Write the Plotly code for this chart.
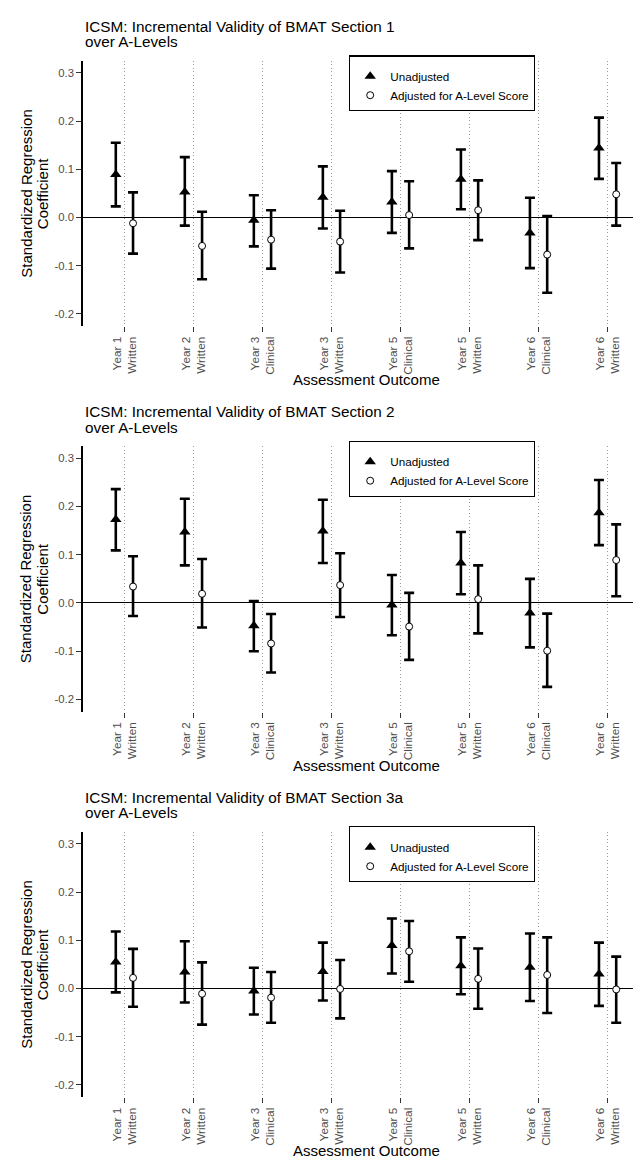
import plotly.graph_objects as go

# ---------------- data ----------------
categories = ["Year 1 Written", "Year 2 Written", "Year 3 Clinical", "Year 3 Written",
              "Year 5 Clinical", "Year 5 Written", "Year 6 Clinical", "Year 6 Written"]
tick_labels = ["Year 1<br>Written", "Year 2<br>Written", "Year 3<br>Clinical", "Year 3<br>Written",
               "Year 5<br>Clinical", "Year 5<br>Written", "Year 6<br>Clinical", "Year 6<br>Written"]
y_ticks = [-0.2, -0.1, 0.0, 0.1, 0.2, 0.3]

titles = ["ICSM: Incremental Validity of BMAT Section 1",
          "ICSM: Incremental Validity of BMAT Section 2",
          "ICSM: Incremental Validity of BMAT Section 3a"]
subtitle = "over A-Levels"
series_names = ["Unadjusted", "Adjusted for A-Level Score"]

# Section 1
s1_unadj = [0.089, 0.053, -0.006, 0.042, 0.032, 0.079, -0.032, 0.144]
s1_unadj_lo = [0.023, -0.017, -0.060, -0.023, -0.032, 0.017, -0.105, 0.080]
s1_unadj_hi = [0.155, 0.125, 0.046, 0.106, 0.096, 0.141, 0.041, 0.207]
s1_adj = [-0.012, -0.059, -0.046, -0.050, 0.005, 0.015, -0.077, 0.048]
s1_adj_lo = [-0.075, -0.128, -0.106, -0.114, -0.064, -0.047, -0.156, -0.017]
s1_adj_hi = [0.052, 0.012, 0.015, 0.014, 0.075, 0.077, 0.003, 0.113]

# Section 2
s2_unadj = [0.173, 0.147, -0.047, 0.149, -0.004, 0.083, -0.021, 0.187]
s2_unadj_lo = [0.109, 0.078, -0.100, 0.083, -0.067, 0.018, -0.092, 0.120]
s2_unadj_hi = [0.236, 0.216, 0.004, 0.214, 0.058, 0.147, 0.050, 0.255]
s2_adj = [0.034, 0.019, -0.084, 0.037, -0.049, 0.008, -0.099, 0.089]
s2_adj_lo = [-0.027, -0.051, -0.144, -0.029, -0.118, -0.063, -0.174, 0.014]
s2_adj_hi = [0.097, 0.091, -0.023, 0.103, 0.021, 0.078, -0.022, 0.163]

# Section 3a
s3_unadj = [0.055, 0.034, -0.005, 0.035, 0.089, 0.047, 0.044, 0.030]
s3_unadj_lo = [-0.008, -0.029, -0.054, -0.025, 0.031, -0.012, -0.026, -0.036]
s3_unadj_hi = [0.118, 0.098, 0.043, 0.095, 0.145, 0.106, 0.114, 0.095]
s3_adj = [0.022, -0.011, -0.019, -0.001, 0.077, 0.020, 0.028, -0.002]
s3_adj_lo = [-0.038, -0.075, -0.071, -0.062, 0.014, -0.042, -0.051, -0.071]
s3_adj_hi = [0.082, 0.054, 0.034, 0.059, 0.140, 0.083, 0.106, 0.066]

panels = [
    (s1_unadj, s1_unadj_lo, s1_unadj_hi, s1_adj, s1_adj_lo, s1_adj_hi),
    (s2_unadj, s2_unadj_lo, s2_unadj_hi, s2_adj, s2_adj_lo, s2_adj_hi),
    (s3_unadj, s3_unadj_lo, s3_unadj_hi, s3_adj, s3_adj_lo, s3_adj_hi),
]

# ---------------- layout constants ----------------
W, H = 641, 1158
DODGE = 0.125
PANEL_STEP = 385.5          # px between panels
PLOT_TOP = 52.7             # px, panel 1 plot top
PLOT_BOT = 318.0            # px, panel 1 plot bottom
X_LEFT = 75.0
FONT = "Liberation Sans, Arial, sans-serif"

def py(px):
    return 1 - px / H

def px_x(px):
    return px / W

fig = go.Figure()
annotations = []
layout_axes = {}

for p, (u, ulo, uhi, a, alo, ahi) in enumerate(panels):
    sfx = "" if p == 0 else str(p + 1)
    xa, ya = "x" + sfx, "y" + sfx
    leg = "legend" + sfx
    off = p * PANEL_STEP
    xpos = list(range(len(categories)))

    fig.add_trace(go.Scatter(
        x=[i - DODGE for i in xpos], y=u, mode="markers", name=series_names[0],
        customdata=categories,
        marker=dict(symbol="triangle-up", size=10, color="black"),
        error_y=dict(type="data", symmetric=False,
                     array=[h - v for h, v in zip(uhi, u)],
                     arrayminus=[v - l for v, l in zip(u, ulo)],
                     color="black", thickness=2.6, width=5),
        xaxis=xa, yaxis=ya, legend=leg))
    fig.add_trace(go.Scatter(
        x=[i + DODGE for i in xpos], y=a, mode="markers", name=series_names[1],
        customdata=categories,
        marker=dict(symbol="circle", size=7, color="white", line=dict(color="black", width=1)),
        error_y=dict(type="data", symmetric=False,
                     array=[h - v for h, v in zip(ahi, a)],
                     arrayminus=[v - l for v, l in zip(a, alo)],
                     color="black", thickness=2.6, width=5),
        xaxis=xa, yaxis=ya, legend=leg))

    top = PLOT_TOP + off
    bot = PLOT_BOT + off
    layout_axes["xaxis" + sfx] = dict(
        domain=[px_x(X_LEFT), 1.0], anchor=ya,
        range=[-0.6, len(categories) - 0.4],
        tickmode="array", tickvals=xpos, ticktext=tick_labels, tickangle=-90,
        ticks="outside", ticklen=5, tickwidth=1.2, tickcolor="#333333",
        showgrid=True, gridcolor="#9a9a9a", griddash="1px,2.5px", gridwidth=1,
        showline=False, zeroline=False,
        tickfont=dict(size=11.8, color="#4d4d4d", family=FONT),
        automargin=False, fixedrange=True)
    layout_axes["yaxis" + sfx] = dict(
        domain=[py(bot), py(top)], anchor=xa,
        range=[-0.225, 0.325],
        tickmode="array", tickvals=y_ticks, ticktext=["%.1f" % v for v in y_ticks],
        ticks="outside", ticklen=5, tickwidth=1.2, tickcolor="#333333",
        showline=True, linecolor="black", linewidth=1.6,
        showgrid=False, zeroline=True, zerolinecolor="black", zerolinewidth=1.3,
        tickfont=dict(size=11.3, color="#4d4d4d", family=FONT),
        automargin=False, fixedrange=True)

    layout_axes[leg] = dict(
        x=px_x(341), y=py(47.3 + off), xanchor="left", yanchor="top",
        bordercolor="black", borderwidth=1.2, bgcolor="white",
        font=dict(size=11.7, color="black", family=FONT),
        title=dict(text=" ", font=dict(size=4)),
        itemwidth=30, tracegroupgap=0)

    # titles
    annotations.append(dict(text=titles[p], x=px_x(X_LEFT), y=py(18.3 + off),
                            xref="paper", yref="paper", xanchor="left", yanchor="middle",
                            showarrow=False, font=dict(size=15.3, color="black", family=FONT)))
    annotations.append(dict(text=subtitle, x=px_x(X_LEFT), y=py(33.6 + off),
                            xref="paper", yref="paper", xanchor="left", yanchor="middle",
                            showarrow=False, font=dict(size=15.3, color="black", family=FONT)))
    # y axis title (two lines)
    annotations.append(dict(text="Standardized Regression", x=px_x(18.3),
                            y=py((top + bot) / 2), xref="paper", yref="paper",
                            xanchor="center", yanchor="middle", textangle=-90,
                            showarrow=False, font=dict(size=15, color="black", family=FONT)))
    annotations.append(dict(text="Coefficient", x=px_x(34.8),
                            y=py((top + bot) / 2), xref="paper", yref="paper",
                            xanchor="center", yanchor="middle", textangle=-90,
                            showarrow=False, font=dict(size=15, color="black", family=FONT)))
    # x axis title
    annotations.append(dict(text="Assessment Outcome", x=px_x((X_LEFT + W) / 2),
                            y=py(371.5 + off), xref="paper", yref="paper",
                            xanchor="center", yanchor="middle",
                            showarrow=False, font=dict(size=15, color="black", family=FONT)))

fig.update_layout(
    width=W, height=H,
    margin=dict(l=0, r=0, t=0, b=0),
    plot_bgcolor="white", paper_bgcolor="white",
    font=dict(family=FONT, color="black"),
    annotations=annotations,
    showlegend=True,
    **layout_axes)

fig.write_html("out.html")
